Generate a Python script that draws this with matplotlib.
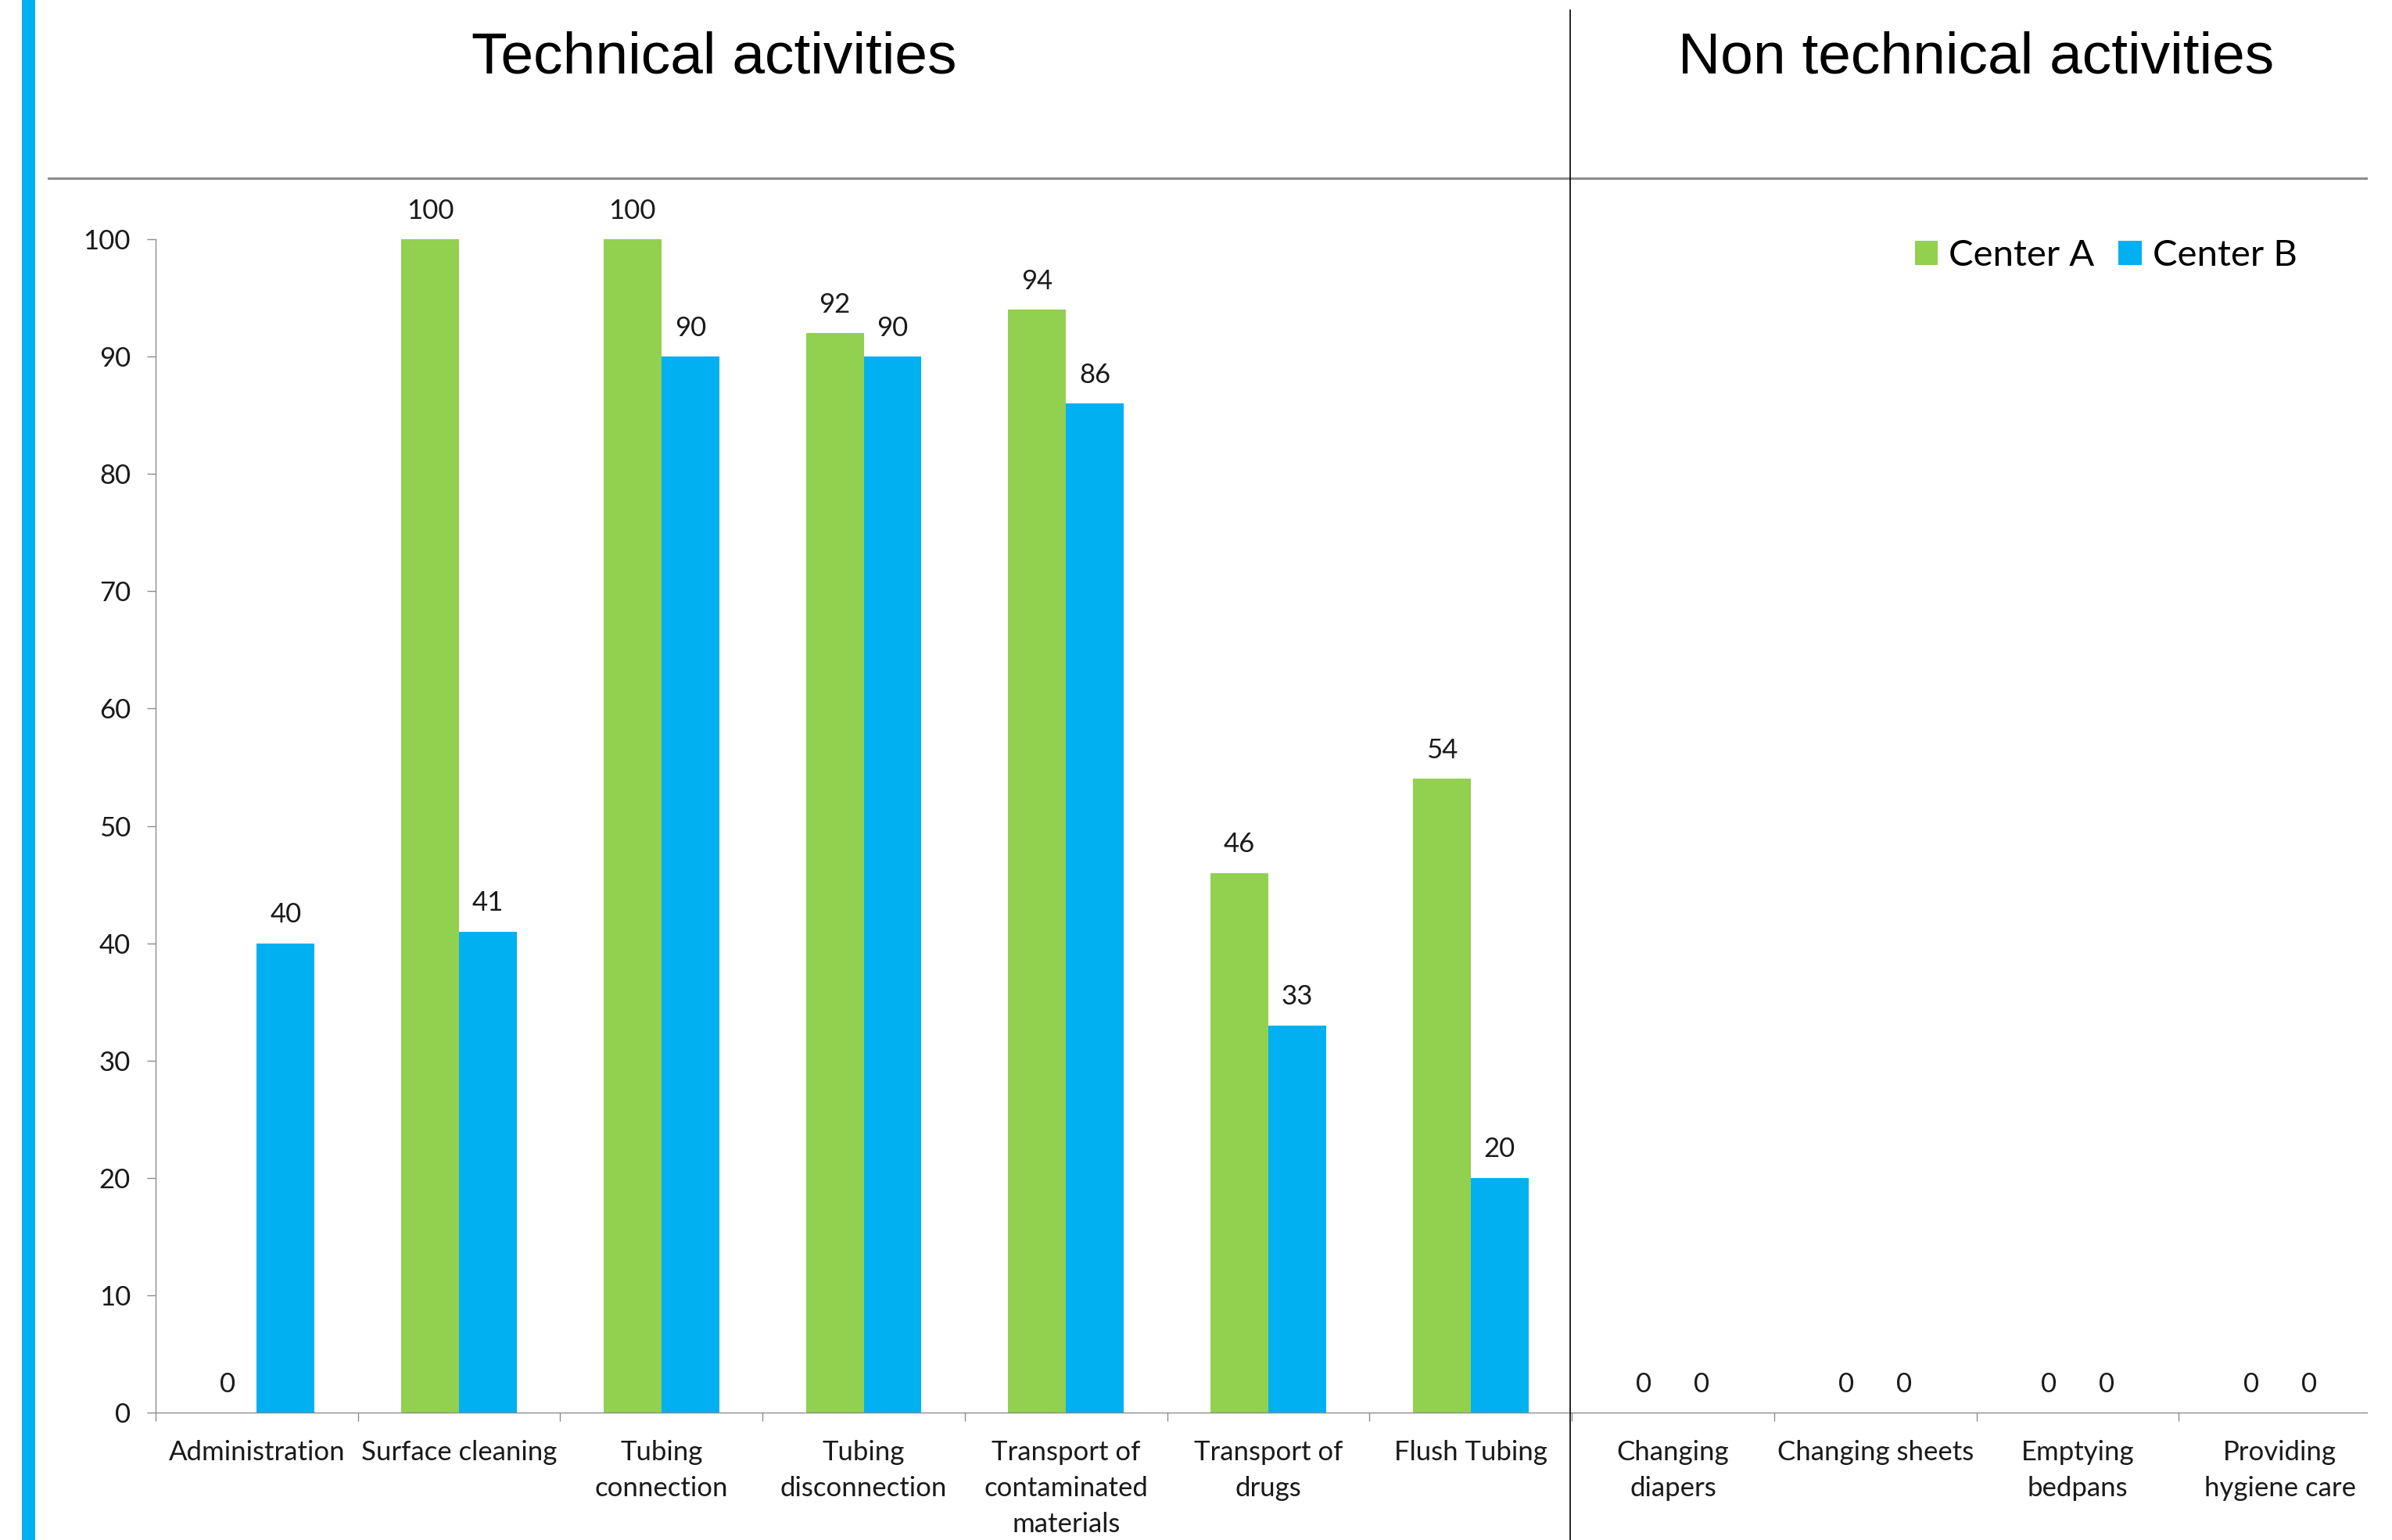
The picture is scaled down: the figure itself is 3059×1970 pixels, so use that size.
import matplotlib
matplotlib.use("Agg")
import matplotlib.pyplot as plt
import numpy as np
from matplotlib.lines import Line2D
from matplotlib.patches import Rectangle

# chart data
categories = ["Administration", "Surface cleaning", "Tubing\nconnection",
              "Tubing\ndisconnection", "Transport of\ncontaminated\nmaterials",
              "Transport of\ndrugs", "Flush Tubing", "Changing\ndiapers",
              "Changing sheets", "Emptying\nbedpans", "Providing\nhygiene care"]
center_a = [0, 100, 100, 92, 94, 46, 54, 0, 0, 0, 0]
center_b = [40, 41, 90, 90, 86, 33, 20, 0, 0, 0, 0]
series_names = ["Center A", "Center B"]
yticks = [0, 10, 20, 30, 40, 50, 60, 70, 80, 90, 100]
section_titles = ["Technical activities", "Non technical activities"]

green = "#92D050"
blue = "#00B0F0"
axis_gray = "#8C8C8C"
text_col = "#1a1a1a"
label_size = 25

plt.rcParams['font.family'] = ['Lato', 'DejaVu Sans']

fig = plt.figure(figsize=(30.59, 19.70), dpi=100)
ax = fig.add_axes([0.06505, 0.08274, 0.93037, 0.76193])

x = np.arange(len(categories))
bw = 1 / 3.5

bars_a = ax.bar(x - bw / 2, center_a, bw, color=green, linewidth=0, label=series_names[0])
bars_b = ax.bar(x + bw / 2, center_b, bw, color=blue, linewidth=0, label=series_names[1])

# value labels above bars
for xs, vals in ((x - bw / 2, center_a), (x + bw / 2, center_b)):
    for xi, v in zip(xs, vals):
        ax.annotate(str(v), (xi, v), xytext=(0, 19), textcoords="offset points",
                    ha="center", va="baseline", fontsize=label_size, color=text_col)

ax.set_xlim(-0.5, len(categories) - 0.5)
ax.set_ylim(0, 100)

for s in ["top", "right"]:
    ax.spines[s].set_visible(False)
for s in ["left", "bottom"]:
    ax.spines[s].set_color(axis_gray)
    ax.spines[s].set_linewidth(1.0)
ax.spines["bottom"].set_bounds(-0.5, len(categories) - 0.57)

ax.set_yticks(yticks)
ax.set_yticklabels([str(t) for t in yticks])
ax.tick_params(axis="y", direction="out", length=8, width=1, color=axis_gray,
               pad=15, labelsize=label_size, labelcolor=text_col)

ax.set_xticks(x)
ax.set_xticklabels(categories, linespacing=1.55)
ax.set_xticks(np.arange(len(categories)) - 0.5, minor=True)
ax.tick_params(axis="x", which="major", length=0, pad=25, labelsize=label_size, labelcolor=text_col)
ax.tick_params(axis="x", which="minor", direction="out", length=8, width=1, color=axis_gray)

leg = ax.legend(loc="center left", bbox_to_anchor=(0.7906, 0.986), frameon=False,
                ncol=2, fontsize=34, handlelength=0.62, handleheight=0.62,
                handletextpad=0.3, columnspacing=0.65, borderpad=0, borderaxespad=0)

# decorations: left stripe, header line, divider and section titles
fig.add_artist(Rectangle((28 / 3059, 0), 17 / 3059, 1, transform=fig.transFigure,
                         color=blue, linewidth=0))
fig.add_artist(Line2D([62 / 3059, 3026 / 3059], [1 - 228 / 1970, 1 - 228 / 1970],
                      transform=fig.transFigure, color=axis_gray, linewidth=2.2))
fig.add_artist(Line2D([2008 / 3059, 2008 / 3059], [0, 1 - 13 / 1970],
                      transform=fig.transFigure, color="black", linewidth=1.2))

fig.text(913 / 3059, 1 - 74 / 1970, section_titles[0], ha="center", va="center",
         fontsize=54, family="Liberation Sans", color="black")
fig.text(2527 / 3059, 1 - 74 / 1970, section_titles[1], ha="center", va="center",
         fontsize=54, family="Liberation Sans", color="black")

fig.savefig("out.png", dpi=100, facecolor="white")
